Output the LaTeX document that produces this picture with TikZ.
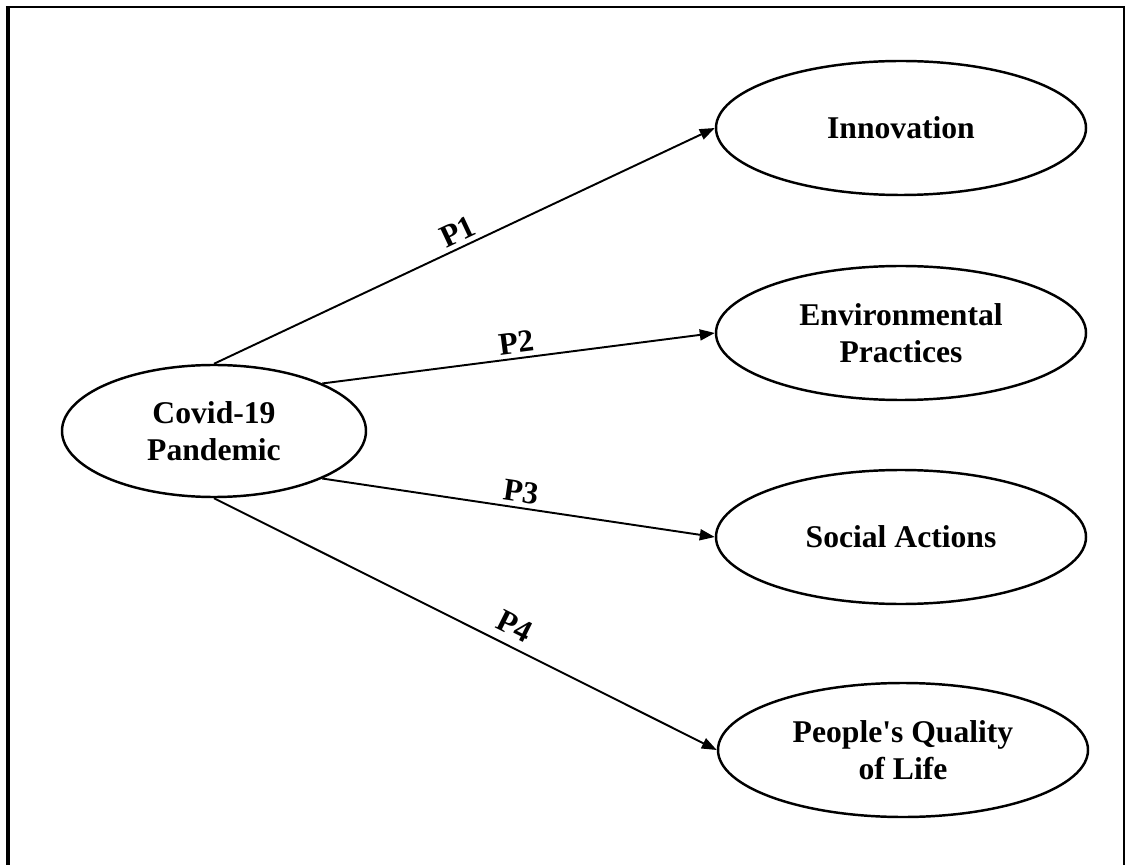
\documentclass[tikz,border=0pt]{standalone}
\usepackage{fontspec}
\setmainfont{Liberation Serif}
\usetikzlibrary{shapes.geometric,arrows.meta}

\begin{document}
\begin{tikzpicture}[
        construct/.style={draw, ellipse, line width=1.4pt, inner sep=0pt, minimum width=7.4cm, minimum height=2.68cm, align=center, font=\fontsize{18}{21}\selectfont\bfseries},
        link/.style={line width=1.1pt, -{Triangle[length=3mm,width=2.2mm]}},
        plabel/.style={sloped, above, inner sep=2.5pt, font=\fontsize{18}{21}\selectfont\bfseries}
    ]
        \useasboundingbox (0,0) rectangle (22.52,-17.3);
        \draw[line width=1.8pt] (0.16,-17.3) -- (0.16,-0.14);
        \draw[line width=1.1pt] (0.12,-0.14) -- (22.48,-0.14) -- (22.48,-17.3);
        \node[construct, minimum width=6.08cm, minimum height=2.64cm] (covid) at (4.28,-8.62) {Covid-19\\Pandemic};
        \node[construct] (innovation) at (18.02,-2.56) {Innovation};
        \node[construct] (environment) at (18.02,-6.66) {Environmental\\Practices};
        \node[construct] (social) at (18.02,-10.74) {Social Actions};
        \node[construct] (quality) at (18.06,-15.0) {People\textquotesingle s Quality\\of Life};
        \draw[link] (covid.north) -- (innovation.west) node[plabel, midway] {P1};
        \draw[link] (covid.north east) -- (environment.west) node[plabel, midway] {P2};
        \draw[link] (covid.south east) -- (social.west) node[plabel, midway] {P3};
        \draw[link] (covid.south) -- (quality.west) node[plabel, pos=0.58, inner sep=5pt] {P4};
    \end{tikzpicture}
\end{document}
